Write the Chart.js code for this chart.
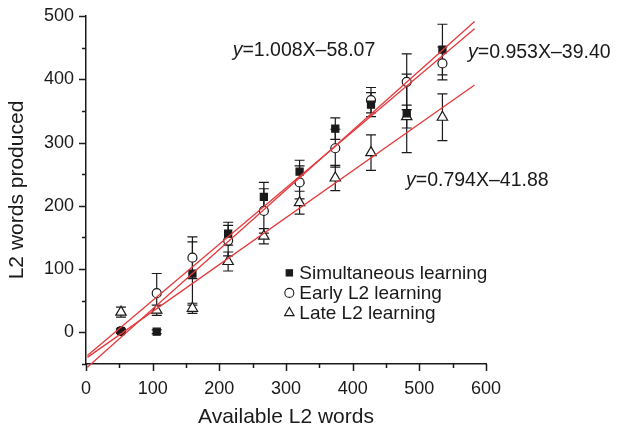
<!DOCTYPE html>
<html>
<head>
<meta charset="utf-8">
<script src="https://cdn.jsdelivr.net/npm/chart.js@4.4.1/dist/chart.umd.min.js"></script>
<style>
  html, body { margin: 0; padding: 0; background: #fff; }
  #wrap { width: 618px; height: 425px; }
</style>
</head>
<body>
<div id="wrap"><canvas id="chart" width="618" height="425"></canvas></div>
<script>
"use strict";

// data
const availableWords = [50, 100, 150, 200, 250, 300, 350, 400, 450, 500];
const simultaneous = [2, 1, 93, 156, 214, 254, 322, 360, 346, 447];
const simultaneousErr = [3, 3, 50, 18, 23, 18, 17, 19, 62, 40];
const earlyL2 = [2, 62, 118, 145, 192, 237, 291, 367, 396, 425];
const earlyL2Err = [3, 31, 33, 24, 35, 26, 30, 20, 44, 26];
const lateL2 = [32, 35, 38, 112, 152, 205, 244, 284, 341, 340];
const lateL2Err = [8, 8, 8, 15, 12, 18, 20, 28, 18, 37];

const fitSlopes = [1.008, 0.953, 0.794];
const fitIntercepts = [-58.07, -39.40, -41.88];
const fitRange = [3, 545];
const fitLabels = ['=1.008X\u201358.07', '=0.953X\u201339.40', '=0.794X\u201341.88'];

const legendLabels = ['Simultaneous learning', 'Early L2 learning', 'Late L2 learning'];

const FONT = "'Liberation Sans', Arial, sans-serif";
const RED = '#e5393c';
const INK = '#1a1a1a';

// where the equations sit (axis units)
const eqAnchors = [[220, 446], [573, 442], [480, 240]];
const legendAnchor = [305, 94];

const toPoints = (ys) => ys.map((y, i) => ({ x: availableWords[i], y: y }));
const fitLine = (k) => fitRange.map(x => ({ x: x, y: fitSlopes[k] * x + fitIntercepts[k] }));

const markerSets = [
    { data: simultaneous, err: simultaneousErr, style: 'rect', radius: 5, fill: INK },
    { data: earlyL2, err: earlyL2Err, style: 'circle', radius: 4.5, fill: '#fff' },
    { data: lateL2, err: lateL2Err, style: 'triangle', radius: 6, fill: '#fff' }
];

const datasets = [];
fitSlopes.forEach((s, k) => {
    datasets.push({
        type: 'line',
        data: fitLine(k),
        xAxisID: 'xd',
        borderColor: RED,
        borderWidth: 1.3,
        pointRadius: 0,
        fill: false,
        clip: 8,
        order: 0
    });
});
markerSets.forEach(m => {
    datasets.push({
        type: 'scatter',
        data: toPoints(m.data),
        xAxisID: 'xd',
        pointStyle: m.style,
        pointRadius: m.radius,
        pointBackgroundColor: m.fill,
        pointBorderColor: INK,
        pointBorderWidth: 1.2,
        order: 1
    });
});

// error bars under the markers
const errorBars = {
    id: 'errorBars',
    beforeDatasetsDraw(chart) {
        const c = chart.ctx;
        const xs = chart.scales.xd, ys = chart.scales.y;
        c.save();
        c.strokeStyle = INK;
        c.lineWidth = 1.2;
        markerSets.forEach(m => {
            m.data.forEach((v, i) => {
                const px = xs.getPixelForValue(availableWords[i]);
                const top = ys.getPixelForValue(v + m.err[i]);
                const bot = ys.getPixelForValue(v - m.err[i]);
                c.beginPath();
                c.moveTo(px, top); c.lineTo(px, bot);
                c.moveTo(px - 5, top); c.lineTo(px + 5, top);
                c.moveTo(px - 5, bot); c.lineTo(px + 5, bot);
                c.stroke();
            });
        });
        c.restore();
    }
};

// major / minor tick marks drawn outward
const tickMarks = {
    id: 'tickMarks',
    afterDraw(chart) {
        const c = chart.ctx;
        const xs = chart.scales.x, ys = chart.scales.y;
        const a = chart.chartArea;
        c.save();
        c.strokeStyle = INK;
        c.lineWidth = 1.5;
        c.beginPath();
        for (let v = -50; v <= 500; v += 50) {
            const py = Math.round(ys.getPixelForValue(v)) + 0.5;
            const len = v % 100 === 0 ? 7 : 4;
            c.moveTo(a.left, py); c.lineTo(a.left - len, py);
        }
        for (let v = 0; v <= 600; v += 50) {
            const px = Math.round(xs.getPixelForValue(v)) + 0.5;
            const len = v % 100 === 0 ? 7 : 4;
            c.moveTo(px, a.bottom); c.lineTo(px, a.bottom + len);
        }
        c.stroke();
        c.restore();
    }
};

// equations and in-plot legend
const annotations = {
    id: 'annotations',
    afterDraw(chart) {
        const c = chart.ctx;
        const xs = chart.scales.x, ys = chart.scales.y;
        c.save();
        c.fillStyle = INK;
        c.textBaseline = 'middle';
        c.textAlign = 'left';
        fitLabels.forEach((t, k) => {
            const px = xs.getPixelForValue(eqAnchors[k][0]);
            const py = ys.getPixelForValue(eqAnchors[k][1]);
            c.font = 'italic 19.5px ' + FONT;
            c.fillText('y', px, py);
            const w = c.measureText('y').width;
            c.font = '19.5px ' + FONT;
            c.fillText(t, px + w, py);
        });

        const lx = xs.getPixelForValue(legendAnchor[0]);
        const ly = ys.getPixelForValue(legendAnchor[1]);
        legendLabels.forEach((t, k) => {
            const m = markerSets[k];
            const py = ly + k * 20;
            c.fillStyle = m.fill;
            c.strokeStyle = INK;
            c.lineWidth = 1.1;
            Chart.helpers.drawPoint(c, { pointStyle: m.style, radius: m.style === 'triangle' ? 5.5 : 4.5, rotation: 0, borderWidth: 1.1 }, lx, py);
            c.fillStyle = INK;
            c.font = '19px ' + FONT;
            c.fillText(t, lx + 10, py + 1);
        });
        c.restore();
    }
};

const ctx = document.getElementById('chart').getContext('2d');
const chart = new Chart(ctx, {
    data: { datasets: datasets },
    options: {
        responsive: false,
        animation: false,
        layout: { padding: { left: 0, right: 132, top: 16, bottom: 0 } },
        plugins: {
            legend: { display: false },
            tooltip: { enabled: false }
        },
        scales: {
            x: {
                type: 'linear',
                min: 0,
                max: 600,
                afterFit: (s) => { s.height = 61; s.paddingLeft = 0; s.paddingRight = 0; },
                grid: { display: false, drawTicks: false },
                border: { display: true, color: INK, width: 1.5 },
                ticks: {
                    stepSize: 100,
                    padding: 14,
                    color: INK,
                    font: { family: FONT, size: 18 }
                },
                title: {
                    display: true,
                    text: 'Available L2 words',
                    color: INK,
                    font: { family: FONT, size: 21, lineHeight: 1 },
                    padding: { top: 0, bottom: -3 }
                }
            },
            xd: {
                type: 'linear',
                display: false,
                min: 1,
                max: 561
            },
            y: {
                type: 'linear',
                min: -50,
                max: 500,
                afterFit: (s) => { s.width = 86; s.paddingTop = 0; s.paddingBottom = 0; },
                grid: { display: false, drawTicks: false },
                border: { display: true, color: INK, width: 1.5 },
                ticks: {
                    stepSize: 50,
                    padding: 12,
                    color: INK,
                    font: { family: FONT, size: 18 },
                    callback: (v) => (v >= 0 && v % 100 === 0 ? v : '')
                },
                title: {
                    display: true,
                    text: 'L2 words produced',
                    color: INK,
                    font: { family: FONT, size: 21, lineHeight: 1 },
                    padding: { top: 7, bottom: 0 }
                }
            }
        }
    },
    plugins: [errorBars, tickMarks, annotations]
});
</script>
</body>
</html>
